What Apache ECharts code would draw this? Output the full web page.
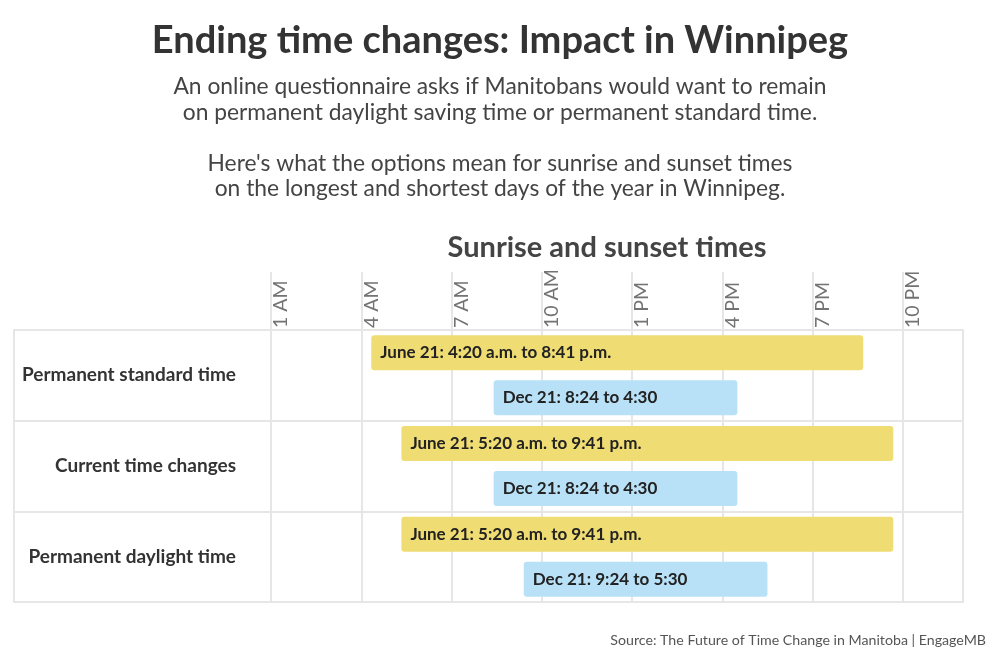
<!DOCTYPE html>
<html>
<head>
<meta charset="utf-8">
<script src="https://cdn.jsdelivr.net/npm/echarts@6/dist/echarts.min.js"></script>
<style>
  html, body { margin: 0; padding: 0; background: #fff; }
  #main { width: 1000px; height: 656px; }
</style>
</head>
<body>
<div id="main"></div>
<script>
// rows of the table
var categories = ['Permanent standard time', 'Current time changes', 'Permanent daylight time'];
// June 21 sunrise / sunset (24 h clock)
var juneRise = ['4:20', '5:20', '5:20'];
var juneSet = ['20:41', '21:41', '21:41'];
// Dec 21 sunrise / sunset (24 h clock)
var decRise = ['8:24', '8:24', '9:24'];
var decSet = ['16:30', '16:30', '17:30'];
var juneLabels = ['June 21: 4:20 a.m. to 8:41 p.m.', 'June 21: 5:20 a.m. to 9:41 p.m.', 'June 21: 5:20 a.m. to 9:41 p.m.'];
var decLabels = ['Dec 21: 8:24 to 4:30', 'Dec 21: 8:24 to 4:30', 'Dec 21: 9:24 to 5:30'];
// hour axis
var tickValues = [1, 4, 7, 10, 13, 16, 19, 22];
var tickLabels = ['1 AM', '4 AM', '7 AM', '10 AM', '1 PM', '4 PM', '7 PM', '10 PM'];

function hours(s) {
    var p = s.split(':');
    return +p[0] + (+p[1]) / 60;
}
function lengths(rise, set) {
    return rise.map(function (r, i) { return hours(set[i]) - hours(r); });
}

var gridColor = '#e6e6e6';
var font = 'Lato';

var myChart = echarts.init(document.getElementById('main'));

var option = {
    backgroundColor: '#fff',
    animation: false,
    title: [{
        text: 'Ending time changes: Impact in Winnipeg',
        left: 'center',
        top: 14,
        textStyle: { fontFamily: font, fontSize: 38, fontWeight: 'bold', color: '#333', lineHeight: 44 }
    }, {
        text: 'An online questionnaire asks if Manitobans would want to remain\n' +
              'on permanent daylight saving time or permanent standard time.\n\n' +
              "Here's what the options mean for sunrise and sunset times\n" +
              'on the longest and shortest days of the year in Winnipeg.',
        left: 'center',
        top: 69,
        textStyle: { fontFamily: font, fontSize: 22.8, fontWeight: 'normal', color: '#444', lineHeight: 25.5 }
    }, {
        text: 'Sunrise and sunset times',
        left: 602,
        textAlign: 'center',
        top: 227,
        textStyle: { fontFamily: font, fontSize: 29, fontWeight: 'bold', color: '#444', lineHeight: 32 }
    }, {
        text: 'Source: The Future of Time Change in Manitoba | EngageMB',
        right: 9,
        top: 626,
        textStyle: { fontFamily: font, fontSize: 14.2, fontWeight: 'normal', color: '#555', lineHeight: 18 }
    }],
    grid: { left: 271, right: 37, top: 330, bottom: 54 },
    xAxis: {
        type: 'value',
        position: 'top',
        min: 1,
        max: 24,
        interval: 3,
        axisLine: { show: true, lineStyle: { color: gridColor, width: 2 } },
        axisTick: {
            show: true,
            length: 58,
            customValues: tickValues,
            lineStyle: { color: gridColor, width: 2 }
        },
        splitLine: { show: true, lineStyle: { color: gridColor, width: 2 } },
        axisLabel: {
            rotate: -90,
            margin: 2,
            align: 'left',
            verticalAlign: 'top',
            fontFamily: font,
            fontSize: 19.5,
            fontWeight: 'normal',
            color: '#737373',
            formatter: function (v) {
                var i = tickValues.indexOf(v);
                return i < 0 ? '' : tickLabels[i];
            }
        }
    },
    yAxis: [{
        type: 'category',
        inverse: true,
        data: categories,
        axisLine: { show: true, lineStyle: { color: gridColor, width: 2 } },
        axisTick: { show: true, length: 257, lineStyle: { color: gridColor, width: 2 } },
        splitLine: { show: true, lineStyle: { color: gridColor, width: 2 } },
        axisLabel: { margin: 35, fontFamily: font, fontSize: 19, fontWeight: 'bold', color: '#333' }
    }, {
        type: 'category',
        inverse: true,
        data: categories,
        position: 'left',
        offset: 257,
        axisLine: { show: true, lineStyle: { color: gridColor, width: 2 } },
        axisTick: { show: false },
        axisLabel: { show: false }
    }, {
        type: 'category',
        inverse: true,
        data: categories,
        position: 'right',
        axisLine: { show: true, lineStyle: { color: gridColor, width: 2 } },
        axisTick: { show: false },
        axisLabel: { show: false }
    }],
    series: [{
        name: 'June base',
        type: 'bar',
        stack: 'june',
        barWidth: 35,
        barGap: '28.6%',
        silent: true,
        itemStyle: { color: 'transparent' },
        data: juneRise.map(hours)
    }, {
        name: 'June 21',
        type: 'bar',
        stack: 'june',
        barWidth: 35,
        barGap: '28.6%',
        silent: true,
        itemStyle: { color: '#efdc73', borderRadius: 3 },
        label: {
            show: true,
            position: 'insideLeft',
            distance: 9,
            fontFamily: font,
            fontSize: 17,
            fontWeight: 'bold',
            color: '#222',
            formatter: function (p) { return juneLabels[p.dataIndex]; }
        },
        data: lengths(juneRise, juneSet)
    }, {
        name: 'Dec base',
        type: 'bar',
        stack: 'dec',
        barWidth: 35,
        barGap: '28.6%',
        silent: true,
        itemStyle: { color: 'transparent' },
        data: decRise.map(hours)
    }, {
        name: 'Dec 21',
        type: 'bar',
        stack: 'dec',
        barWidth: 35,
        barGap: '28.6%',
        silent: true,
        itemStyle: { color: '#b8e1f8', borderRadius: 3 },
        label: {
            show: true,
            position: 'insideLeft',
            distance: 9,
            fontFamily: font,
            fontSize: 17,
            fontWeight: 'bold',
            color: '#222',
            formatter: function (p) { return decLabels[p.dataIndex]; }
        },
        data: lengths(decRise, decSet)
    }]
};

myChart.setOption(option);
</script>
</body>
</html>
